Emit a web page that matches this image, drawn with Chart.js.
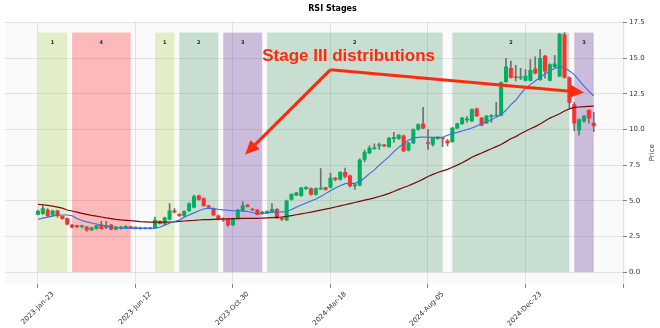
<!DOCTYPE html>
<html>
<head>
<meta charset="utf-8">
<script src="https://cdn.jsdelivr.net/npm/chart.js@4.4.1/dist/chart.umd.min.js"></script>
<style>
  html, body { margin: 0; padding: 0; background: #fff; }
  #wrap { width: 660px; height: 328px; }
</style>
</head>
<body>
<div id="wrap"><canvas id="chart" width="660" height="328"></canvas></div>
<script>
// weekly bars, week 0 = 2023-Jan-23
const opens = [
  4.05, 4.1, 4.35, 4.0, 4.3, 3.9, 3.75, 3.3, 3.2, 3.18,
  3.15, 2.95, 3.05, 3.3, 3.12, 3.3, 3.0, 3.08, 3.1, 3.18,
  3.08, 3.05, 3.1, 3.04, 3.1, 3.55, 3.35, 3.7, 4.3, 4.05,
  3.95, 4.3, 4.55, 5.35, 5.15, 4.65, 4.45, 3.95, 3.75, 3.7,
  3.3, 3.8, 4.3, 4.7, 4.42, 4.35, 4.1, 4.15, 4.25, 4.4,
  3.8, 3.65, 5.1, 5.4, 5.35, 5.85, 5.85, 5.45, 5.82, 5.92,
  5.95, 6.6, 6.5, 7.0, 6.75, 6.05, 6.1, 7.9, 8.35, 8.65,
  8.85, 8.9, 8.8, 9.35, 9.35, 9.55, 8.55, 9.05, 10.0, 10.4,
  9.08, 8.95, 9.35, 9.4, 9.2, 9.15, 10.1, 10.4, 10.68, 10.6,
  11.45, 10.8, 10.45, 10.9, 10.95, 11.0, 13.35, 14.3, 13.7, 13.62,
  13.45, 13.45, 14.25, 13.5, 15.15, 13.45, 14.4, 13.75, 16.65, 13.65,
  11.75, 9.95, 10.6, 11.35, 10.45
];
const highs = [
  4.35, 4.7, 4.45, 4.35, 4.35, 3.95, 3.8, 3.35, 3.3, 3.3,
  3.2, 3.15, 3.3, 3.55, 3.55, 3.35, 3.2, 3.2, 3.25, 3.22,
  3.15, 3.15, 3.12, 3.12, 3.85, 3.6, 3.85, 4.8, 4.45, 4.1,
  4.3, 4.85, 5.4, 5.4, 5.2, 4.7, 4.5, 4.0, 3.8, 3.75,
  3.75, 4.4, 4.95, 4.75, 4.45, 4.4, 4.25, 4.3, 4.8, 4.45,
  3.85, 5.05, 5.5, 5.6, 5.95, 6.0, 5.9, 5.9, 7.25, 5.95,
  6.95, 6.65, 7.05, 7.3, 6.8, 6.2, 7.95, 8.55, 8.85, 9.0,
  9.05, 8.95, 9.45, 9.8, 9.65, 9.6, 9.1, 10.05, 10.4, 11.55,
  10.0, 9.45, 9.5, 9.45, 9.3, 10.15, 10.45, 10.85, 10.9, 11.45,
  11.5, 10.85, 11.0, 11.05, 11.9, 13.35, 15.0, 14.8, 14.5, 14.3,
  14.2, 14.9, 15.1, 15.6, 15.2, 14.6, 15.2, 16.75, 16.8, 13.7,
  11.9, 10.75, 11.0, 11.4, 11.2
];
const lows = [
  4.0, 4.05, 3.9, 3.95, 3.85, 3.7, 3.3, 3.1, 3.1, 3.1,
  2.85, 2.9, 3.0, 3.0, 3.05, 2.95, 2.95, 3.0, 3.05, 3.05,
  3.02, 3.0, 3.0, 3.0, 3.05, 3.35, 3.3, 3.65, 4.15, 3.9,
  3.9, 4.25, 4.5, 5.05, 4.6, 4.5, 3.95, 3.65, 3.55, 3.2,
  3.25, 3.75, 4.25, 4.55, 4.3, 4.0, 4.05, 4.1, 4.2, 3.75,
  3.6, 3.6, 5.05, 5.35, 5.3, 5.8, 5.4, 5.4, 5.8, 5.75,
  5.9, 6.4, 6.45, 6.6, 5.95, 5.8, 6.05, 7.75, 8.3, 8.6,
  8.6, 8.8, 8.75, 9.1, 9.3, 8.45, 8.5, 9.0, 9.95, 10.05,
  8.6, 8.85, 9.3, 8.8, 8.85, 9.1, 10.05, 10.35, 10.5, 10.55,
  10.9, 10.25, 10.4, 10.5, 10.9, 10.95, 13.3, 13.6, 13.4, 13.5,
  13.4, 13.4, 13.9, 13.45, 13.6, 13.4, 14.3, 13.7, 13.6, 11.5,
  9.9, 9.6, 10.5, 10.45, 9.85
];
const closes = [
  4.25, 4.45, 3.95, 4.3, 3.95, 3.75, 3.35, 3.15, 3.18, 3.2,
  2.95, 3.1, 3.25, 3.05, 3.18, 3.0, 3.15, 3.14, 3.2, 3.12,
  3.12, 3.1, 3.05, 3.08, 3.65, 3.4, 3.8, 4.3, 4.2, 3.95,
  4.25, 4.8, 5.3, 5.1, 4.65, 4.55, 4.0, 3.7, 3.65, 3.3,
  3.7, 4.35, 4.65, 4.6, 4.35, 4.05, 4.2, 4.25, 4.4, 3.8,
  3.7, 5.0, 5.45, 5.55, 5.9, 5.95, 5.45, 5.85, 5.85, 5.8,
  6.6, 6.5, 7.0, 6.7, 6.05, 6.12, 7.85, 8.4, 8.7, 8.7,
  8.95, 8.85, 9.4, 9.45, 9.6, 8.5, 9.05, 10.0, 10.35, 10.1,
  9.02, 9.4, 9.45, 9.35, 9.05, 10.1, 10.4, 10.8, 10.72, 11.4,
  10.95, 10.3, 10.95, 10.97, 11.02, 13.3, 14.4, 13.65, 13.63, 13.68,
  13.75, 14.15, 13.95, 15.0, 14.1, 14.55, 14.6, 16.7, 13.65, 11.9,
  10.45, 10.7, 10.95, 10.8, 10.25
];
// moving averages of close (short and long)
const maFast = [
  3.7, 3.78, 3.85, 3.92, 3.98, 4.0, 4.0, 3.95, 3.75, 3.62,
  3.52, 3.44, 3.37, 3.3, 3.24, 3.16, 3.12, 3.1, 3.08, 3.06,
  3.06, 3.05, 3.05, 3.05, 3.08, 3.15, 3.28, 3.42, 3.55, 3.65,
  3.85, 4.0, 4.15, 4.3, 4.42, 4.48, 4.45, 4.4, 4.36, 4.33,
  4.3, 4.3, 4.28, 4.25, 4.18, 4.08, 4.12, 4.15, 4.2, 4.2,
  4.22, 4.25, 4.38, 4.55, 4.7, 4.85, 4.98, 5.12, 5.3, 5.5,
  5.7, 5.9, 6.05, 6.2, 6.22, 6.22, 6.35, 6.6, 6.9, 7.17,
  7.5, 7.8, 8.1, 8.45, 8.75, 9.0, 9.25, 9.4, 9.45, 9.47,
  9.46, 9.45, 9.45, 9.46, 9.6, 9.72, 9.8, 9.9, 10.0, 10.1,
  10.25, 10.4, 10.55, 10.7, 10.85, 11.05, 11.35, 11.75, 12.05, 12.5,
  12.9, 13.15, 13.4, 13.65, 13.9, 14.1, 14.3, 14.38, 14.35, 14.1,
  13.85, 13.45, 13.05, 12.7, 12.35
];
const maSlow = [
  4.75, 4.72, 4.68, 4.62, 4.55, 4.48, 4.35, 4.28, 4.2, 4.12,
  4.05, 3.98, 3.92, 3.86, 3.8, 3.75, 3.7, 3.66, 3.63, 3.6,
  3.57, 3.54, 3.52, 3.5, 3.5, 3.5, 3.5, 3.5, 3.52, 3.55,
  3.58, 3.6, 3.62, 3.65, 3.67, 3.68, 3.7, 3.71, 3.72, 3.73,
  3.74, 3.75, 3.76, 3.76, 3.77, 3.77, 3.78, 3.8, 3.82, 3.84,
  3.86, 3.9, 3.96, 4.02, 4.08, 4.14, 4.2, 4.27, 4.34, 4.41,
  4.48, 4.56, 4.64, 4.72, 4.8, 4.88, 4.96, 5.04, 5.12, 5.2,
  5.3, 5.4, 5.52, 5.65, 5.8, 5.93, 6.05, 6.2, 6.35, 6.52,
  6.7, 6.85, 6.98, 7.1, 7.2, 7.35, 7.5, 7.67, 7.85, 8.05,
  8.2, 8.35, 8.5, 8.65, 8.8, 8.95, 9.15, 9.35, 9.5, 9.7,
  9.88, 10.05, 10.2, 10.38, 10.6, 10.8, 10.95, 11.1, 11.3, 11.45,
  11.55, 11.58, 11.6, 11.62, 11.64
];

const tickWeeks = [0, 20, 40, 60, 80, 100, 120];
const tickLabels = ['2023-Jan-23', '2023-Jun-12', '2023-Oct-30', '2024-Mar-18', '2024-Aug-05', '2024-Dec-23', ''];
const priceTicks = [0, 2.5, 5, 7.5, 10, 12.5, 15, 17.5];

// RSI stage blocks: first week, last week, stage number
const stageStart = [0, 7, 24, 29, 38, 47, 85, 110];
const stageEnd = [6, 19, 28, 37, 46, 83, 109, 114];
const stageNum = [1, 4, 1, 2, 3, 2, 2, 3];

// note text and arrows, in (week, price)
const noteText = 'Stage III distributions';
const noteAt = [46, 14.8];
const arrowFrom = [60, 14.2];
const arrowTo = [[42.5, 8.25], [112, 12.6]];

const stageColors = {
  1: 'rgba(154, 205, 50, 0.25)',
  2: 'rgba(46, 139, 87, 0.25)',
  3: 'rgba(102, 51, 153, 0.31)',
  4: 'rgba(255, 0, 0, 0.26)'
};
const noteColor = '#fe2a0c';

const weeks = opens.map((_, i) => i);
const wicks = weeks.map(i => ({x: i, y: [lows[i], highs[i]]}));
const bodies = weeks.map(i => ({x: i, y: [opens[i], closes[i]]}));
const bodyColors = weeks.map(i => closes[i] >= opens[i] ? '#00b060' : '#fe3032');

const bgPlugin = {
  id: 'bg',
  beforeDraw(chart) {
    const {ctx, chartArea: a} = chart;
    ctx.save();
    ctx.fillStyle = '#fafafa';
    ctx.fillRect(a.left, a.top, a.right - a.left + 3, a.bottom - a.top);
    ctx.restore();
  }
};

const stagePlugin = {
  id: 'stages',
  beforeDatasetsDraw(chart) {
    const {ctx, scales: {x, y}} = chart;
    const top = y.getPixelForValue(Math.max(...highs));
    const bottom = y.getPixelForValue(0);
    ctx.save();
    stageStart.forEach((s, k) => {
      const x0 = x.getPixelForValue(s);
      const x1 = x.getPixelForValue(stageEnd[k]);
      ctx.fillStyle = stageColors[stageNum[k]];
      ctx.fillRect(x0, top, x1 - x0, bottom - top);
      ctx.fillStyle = '#222';
      ctx.font = 'bold 5px "DejaVu Sans"';
      ctx.textAlign = 'center';
      ctx.textBaseline = 'middle';
      ctx.fillText(String(stageNum[k]), (x0 + x1) / 2, top + 10);
    });
    ctx.restore();
  }
};

function drawArrow(ctx, x0, y0, x1, y1) {
  const ang = Math.atan2(y1 - y0, x1 - x0);
  const headLen = 14, headW = 6.5;
  const bx = x1 - headLen * Math.cos(ang);
  const by = y1 - headLen * Math.sin(ang);
  ctx.beginPath();
  ctx.moveTo(x0, y0);
  ctx.lineTo(bx, by);
  ctx.stroke();
  ctx.beginPath();
  ctx.moveTo(x1, y1);
  ctx.lineTo(bx + headW * Math.sin(ang), by - headW * Math.cos(ang));
  ctx.lineTo(bx - headW * Math.sin(ang), by + headW * Math.cos(ang));
  ctx.closePath();
  ctx.fill();
}

const notePlugin = {
  id: 'note',
  afterDatasetsDraw(chart) {
    const {ctx, scales: {x, y}} = chart;
    ctx.save();
    ctx.fillStyle = noteColor;
    ctx.strokeStyle = noteColor;
    ctx.lineWidth = 3;
    ctx.font = 'bold 17px "Liberation Sans", Arial, sans-serif';
    ctx.textAlign = 'left';
    ctx.textBaseline = 'alphabetic';
    ctx.fillText(noteText, x.getPixelForValue(noteAt[0]), y.getPixelForValue(noteAt[1]));
    const sx = x.getPixelForValue(arrowFrom[0]);
    const sy = y.getPixelForValue(arrowFrom[1]);
    arrowTo.forEach(([w, p]) => drawArrow(ctx, sx, sy, x.getPixelForValue(w), y.getPixelForValue(p)));
    ctx.restore();
  },
  afterDraw(chart) {
    // matplotlib-style y label, reading bottom to top
    const {ctx, chartArea: a} = chart;
    ctx.save();
    ctx.translate(652, (a.top + a.bottom) / 2);
    ctx.rotate(-Math.PI / 2);
    ctx.fillStyle = '#333';
    ctx.font = '7px "DejaVu Sans"';
    ctx.textAlign = 'center';
    ctx.textBaseline = 'middle';
    ctx.fillText('Price', 0, 0);
    ctx.restore();
  }
};

new Chart(document.getElementById('chart'), {
  type: 'bar',
  data: {
    datasets: [
      {
        type: 'line',
        data: weeks.map(i => ({x: i, y: maFast[i]})),
        borderColor: '#4169e1',
        borderWidth: 1.1,
        pointRadius: 0,
        order: 0
      },
      {
        type: 'line',
        data: weeks.map(i => ({x: i, y: maSlow[i]})),
        borderColor: '#7a0a0a',
        borderWidth: 1.2,
        pointRadius: 0,
        order: 0
      },
      {
        data: bodies,
        backgroundColor: bodyColors,
        barThickness: 3.4,
        minBarLength: 1,
        grouped: false,
        order: 1
      },
      {
        data: wicks,
        backgroundColor: '#707070',
        barThickness: 1,
        grouped: false,
        order: 2
      }
    ]
  },
  options: {
    responsive: false,
    devicePixelRatio: 1,
    animation: false,
    layout: { padding: { left: 5 } },
    plugins: {
      legend: { display: false },
      tooltip: { enabled: false },
      title: {
        display: true,
        text: 'RSI Stages',
        color: '#000',
        font: { family: 'DejaVu Sans', size: 8, weight: 'bold' },
        padding: { top: 4, bottom: 8 }
      }
    },
    scales: {
      x: {
        type: 'linear',
        offset: false,
        min: -6.76,
        max: 120,
        grid: { offset: false, color: '#dcdcdc', lineWidth: 0.8, tickLength: 4, tickColor: '#666' },
        border: { display: false },
        ticks: {
          autoSkip: false,
          maxRotation: 45,
          minRotation: 45,
          labelOffset: 15,
          padding: 2,
          color: '#333',
          font: { family: 'DejaVu Sans', size: 7 },
          callback: v => tickLabels[tickWeeks.indexOf(v)] ?? ''
        },
        afterBuildTicks: s => { s.ticks = tickWeeks.map(v => ({value: v})); },
        afterFit: s => { s.height = 44; }
      },
      y: {
        type: 'linear',
        position: 'right',
        min: -0.84,
        max: 17.57,
        grid: { color: '#dcdcdc', lineWidth: 0.8, tickLength: 4, tickColor: '#666' },
        border: { display: false },
        ticks: {
          padding: 2,
          color: '#333',
          font: { family: 'DejaVu Sans', size: 7 },
          callback: v => v.toFixed(1)
        },
        afterBuildTicks: s => { s.ticks = priceTicks.map(v => ({value: v})); },
        afterFit: s => { s.width = 37; }
      }
    }
  },
  plugins: [bgPlugin, stagePlugin, notePlugin]
});
</script>
</body>
</html>
